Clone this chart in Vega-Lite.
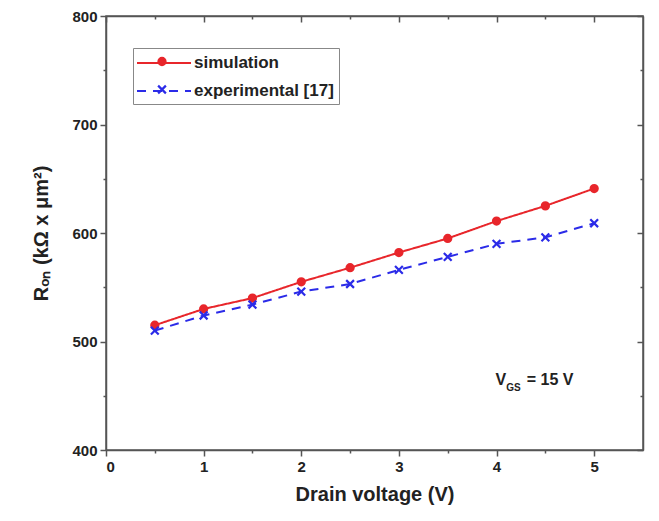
{
  "$schema": "https://vega.github.io/schema/vega-lite/v6.json",
  "width": 537,
  "height": 434,
  "padding": {"left": 106, "top": 16, "right": 16, "bottom": 71},
  "autosize": {"type": "none"},
  "background": "white",
  "config": {
    "font": "Liberation Sans",
    "view": {"stroke": "#555", "strokeWidth": 1.5},
    "axis": {
      "grid": false,
      "domainColor": "#555",
      "domainWidth": 1.5,
      "tickColor": "#555",
      "tickWidth": 1.5,
      "labelFont": "Liberation Sans",
      "labelFontSize": 15,
      "labelFontWeight": "bold",
      "labelColor": "#222",
      "titleFont": "Liberation Sans",
      "titleFontSize": 20,
      "titleFontWeight": "bold",
      "titleColor": "#222"
    }
  },
  "datasets": {
    "curves": [
      {"v": 0.5, "r": 515, "series": "simulation"},
      {"v": 1.0, "r": 530, "series": "simulation"},
      {"v": 1.5, "r": 540, "series": "simulation"},
      {"v": 2.0, "r": 555, "series": "simulation"},
      {"v": 2.5, "r": 568, "series": "simulation"},
      {"v": 3.0, "r": 582, "series": "simulation"},
      {"v": 3.5, "r": 595, "series": "simulation"},
      {"v": 4.0, "r": 611, "series": "simulation"},
      {"v": 4.5, "r": 625, "series": "simulation"},
      {"v": 5.0, "r": 641, "series": "simulation"},
      {"v": 0.5, "r": 510, "series": "experimental [17]"},
      {"v": 1.0, "r": 524, "series": "experimental [17]"},
      {"v": 1.5, "r": 534, "series": "experimental [17]"},
      {"v": 2.0, "r": 546, "series": "experimental [17]"},
      {"v": 2.5, "r": 553, "series": "experimental [17]"},
      {"v": 3.0, "r": 566, "series": "experimental [17]"},
      {"v": 3.5, "r": 578, "series": "experimental [17]"},
      {"v": 4.0, "r": 590, "series": "experimental [17]"},
      {"v": 4.5, "r": 596, "series": "experimental [17]"},
      {"v": 5.0, "r": 609, "series": "experimental [17]"}
    ]
  },
  "resolve": {"axis": {"x": "independent", "y": "independent"}},
  "layer": [
    {
      "data": {"name": "curves"},
      "mark": {"type": "line", "strokeWidth": 2},
      "encoding": {
        "x": {
          "field": "v", "type": "quantitative",
          "scale": {"domain": [0, 5.5], "nice": false},
          "axis": {
            "title": "Drain voltage (V)",
            "values": [0, 0.5, 1, 1.5, 2, 2.5, 3, 3.5, 4, 4.5, 5],
            "format": "~g",
            "labelExpr": "datum.value % 1 == 0 ? datum.label : ''",
            "tickSize": {"condition": {"test": "datum.value % 1 == 0", "value": 6}, "value": 3},
            "labelPadding": 3,
            "titlePadding": 10
          }
        },
        "y": {
          "field": "r", "type": "quantitative",
          "scale": {"domain": [400, 800], "nice": false},
          "axis": {
            "title": "Rₒₙ (kΩ x μm²)",
            "values": [400, 450, 500, 550, 600, 650, 700, 750, 800],
            "labelExpr": "datum.value % 100 == 0 ? datum.label : ''",
            "tickSize": {"condition": {"test": "datum.value % 100 == 0", "value": 6}, "value": 3},
            "labelPadding": 3,
            "titlePadding": 20
          }
        },
        "color": {
          "field": "series", "type": "nominal",
          "scale": {"domain": ["simulation", "experimental [17]"], "range": ["#e8262b", "#2b2be8"]}
        },
        "strokeDash": {
          "field": "series", "type": "nominal",
          "scale": {"domain": ["simulation", "experimental [17]"], "range": [[1, 0], [9, 7]]},
          "legend": {
            "title": null,
            "orient": "none",
            "legendX": 27,
            "legendY": 32,
            "strokeColor": "#888",
            "padding": 5,
            "labelFont": "Liberation Sans",
            "labelFontSize": 17,
            "labelFontWeight": "bold",
            "labelColor": "#222",
            "symbolType": "M-3,0H3",
            "symbolSize": 324,
            "symbolStrokeWidth": 2,
            "symbolOffset": 16,
            "labelOffset": 20,
            "rowPadding": 10
          }
        }
      }
    },
    {
      "data": {"name": "curves"},
      "mark": {"type": "point", "filled": true, "size": 50, "strokeWidth": 2.2, "opacity": 1},
      "encoding": {
        "x": {
          "field": "v", "type": "quantitative",
          "axis": {
            "orient": "top", "title": null, "labels": false,
            "values": [0, 0.5, 1, 1.5, 2, 2.5, 3, 3.5, 4, 4.5, 5],
            "tickSize": {"condition": {"test": "datum.value % 1 == 0", "value": -6}, "value": -3}
          }
        },
        "y": {
          "field": "r", "type": "quantitative",
          "axis": {
            "orient": "right", "title": null, "labels": false,
            "values": [400, 450, 500, 550, 600, 650, 700, 750, 800],
            "tickSize": {"condition": {"test": "datum.value % 100 == 0", "value": -6}, "value": -3}
          }
        },
        "fill": {
          "field": "series", "type": "nominal",
          "sort": "descending",
          "scale": {"range": ["#e8262b", "#2b2be8"]},
          "legend": {
            "title": null, "orient": "none", "legendX": 27, "legendY": 32, "padding": 5,
            "labelFont": "Liberation Sans", "labelFontSize": 17, "labelFontWeight": "bold",
            "labelExpr": "' '", "symbolOffset": 15.5, "rowPadding": 10,
            "symbolSize": 50, "symbolStrokeWidth": 2.2
          }
        },
        "stroke": {
          "field": "series", "type": "nominal",
          "sort": "descending",
          "scale": {"range": ["#e8262b", "#2b2be8"]}
        },
        "shape": {
          "field": "series", "type": "nominal",
          "sort": "descending",
          "scale": {"range": ["circle", "M-1.1,-1.1L1.1,1.1M-1.1,1.1L1.1,-1.1"]}
        }
      }
    },
    {
      "data": {"values": [{"x": 3.99, "y": 460, "t": "V"}]},
      "mark": {"type": "text", "align": "left", "baseline": "alphabetic", "fontSize": 16, "fontWeight": "bold", "color": "#222", "font": "Liberation Sans"},
      "encoding": {"x": {"field": "x", "type": "quantitative", "axis": null}, "y": {"field": "y", "type": "quantitative", "axis": null}, "text": {"field": "t"}}
    },
    {
      "data": {"values": [{"x": 4.1, "y": 454, "t": "GS"}]},
      "mark": {"type": "text", "align": "left", "baseline": "alphabetic", "fontSize": 10, "fontWeight": "bold", "color": "#222", "font": "Liberation Sans"},
      "encoding": {"x": {"field": "x", "type": "quantitative", "axis": null}, "y": {"field": "y", "type": "quantitative", "axis": null}, "text": {"field": "t"}}
    },
    {
      "data": {"values": [{"x": 4.31, "y": 460, "t": "= 15 V"}]},
      "mark": {"type": "text", "align": "left", "baseline": "alphabetic", "fontSize": 16, "fontWeight": "bold", "color": "#222", "font": "Liberation Sans"},
      "encoding": {"x": {"field": "x", "type": "quantitative", "axis": null}, "y": {"field": "y", "type": "quantitative", "axis": null}, "text": {"field": "t"}}
    }
  ]
}
